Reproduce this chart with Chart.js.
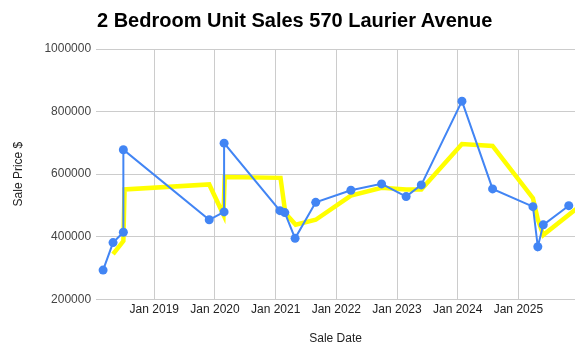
<!DOCTYPE html>
<html>
<head>
<meta charset="utf-8">
<script src="https://cdn.jsdelivr.net/npm/chart.js@4/dist/chart.umd.min.js"></script>
<style>
  html, body { margin: 0; padding: 0; background: #fff; }
  #wrap { position: relative; width: 588px; height: 358px; }
  #title { position: absolute; left: 97px; top: 9px; font-family: "Liberation Sans", Arial, sans-serif; font-weight: bold; font-size: 20px; color: #000; white-space: nowrap; }
  canvas { position: absolute; left: 0; top: 0; }
</style>
</head>
<body>
<div id="wrap">
  <canvas id="c" width="588" height="358"></canvas>
  <div id="title">2 Bedroom Unit Sales 570 Laurier Avenue</div>
</div>
<script>
// Sale dates as decimal years
const saleDates = [2018.156, 2018.32, 2018.49, 2018.49, 2019.905, 2020.15, 2020.15, 2021.07, 2021.15, 2021.32, 2021.66, 2022.24, 2022.745, 2023.15, 2023.40, 2024.07, 2024.575, 2025.24, 2025.32, 2025.41, 2025.83];
const salePrices = [293000, 381000, 414000, 678000, 454000, 479000, 699000, 483000, 477000, 394500, 509700, 548400, 568700, 528000, 565500, 833200, 552600, 495800, 367700, 437700, 499000];
// Trend line (yellow)
const trendDates = [2018.32, 2018.49, 2018.51, 2019.905, 2020.14, 2020.16, 2021.08, 2021.16, 2021.33, 2021.66, 2022.24, 2022.745, 2023.15, 2023.40, 2024.07, 2024.575, 2025.24, 2025.32, 2025.41, 2025.95];
const trendPrices = [344000, 386000, 551000, 567000, 470000, 591000, 588000, 475000, 438000, 454000, 531000, 556000, 551000, 551000, 696000, 690000, 523000, 455000, 405000, 488000];
const yearTicks = [2019, 2020, 2021, 2022, 2023, 2024, 2025];
const yTicks = [200000, 400000, 600000, 800000, 1000000];

const font = "'Liberation Sans', Arial, sans-serif";
const salesData = saleDates.map((d, i) => ({ x: d, y: salePrices[i] }));
const trendData = trendDates.map((d, i) => ({ x: d, y: trendPrices[i] }));

new Chart(document.getElementById('c'), {
  type: 'line',
  data: {
    datasets: [
      {
        label: 'Sale Price',
        data: salesData,
        borderColor: '#4285F4',
        backgroundColor: '#4285F4',
        borderWidth: 2,
        pointRadius: 4.5,
        pointBorderWidth: 0,
        tension: 0,
        order: 1
      },
      {
        label: 'Trend',
        data: trendData,
        borderColor: '#FFFF00',
        borderWidth: 4.5,
        pointRadius: 0,
        tension: 0,
        order: 2
      }
    ]
  },
  options: {
    responsive: false,
    animation: false,
    layout: { padding: { top: 49, right: 13, left: 7, bottom: 8 } },
    plugins: { legend: { display: false }, title: { display: false }, tooltip: { enabled: false } },
    scales: {
      x: {
        type: 'linear',
        min: 2018.041,
        max: 2025.933,
        afterBuildTicks: (axis) => { axis.ticks = yearTicks.map(v => ({ value: v })); },
        ticks: { callback: (v) => 'Jan ' + v, color: '#222', font: { family: font, size: 12 }, maxRotation: 0, autoSkip: false, padding: 3 },
        grid: { color: '#cccccc', drawTicks: false },
        border: { display: false },
        title: { display: true, text: 'Sale Date', color: '#222', font: { family: font, size: 12 }, padding: { top: 12 } }
      },
      y: {
        min: 200000,
        max: 1000000,
        afterBuildTicks: (axis) => { axis.ticks = yTicks.map(v => ({ value: v })); },
        ticks: { callback: (v) => String(v), color: '#444', font: { family: font, size: 12 }, padding: 5 },
        grid: { color: '#cccccc', drawTicks: false },
        border: { display: false },
        title: { display: true, text: 'Sale Price $', color: '#222', font: { family: font, size: 12 }, padding: { bottom: 14 } }
      }
    }
  }
});
</script>
</body>
</html>
